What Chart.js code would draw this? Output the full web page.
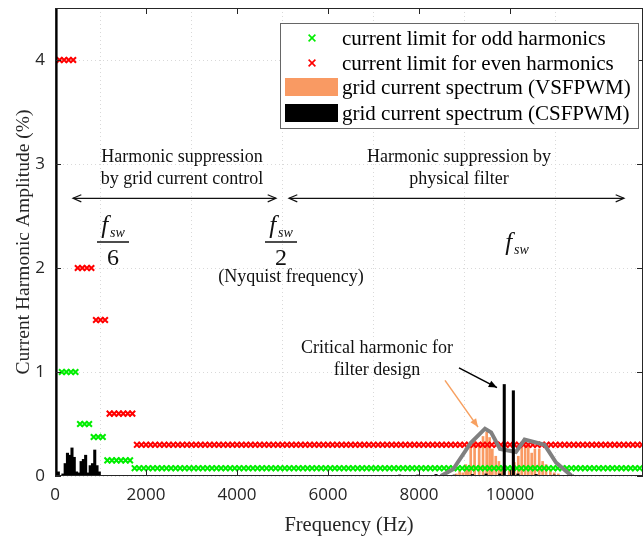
<!DOCTYPE html>
<html>
<head>
<meta charset="utf-8">
<script src="https://cdn.jsdelivr.net/npm/chart.js@4.4.0/dist/chart.umd.min.js"></script>
<style>
  html, body { margin: 0; padding: 0; background: #fff; overflow: hidden; }
  /* canvas is a bit wider than the window: the plot box runs off the right edge like the reference */
  #wrap { width: 649px; height: 538px; position: relative; }
</style>
</head>
<body>
<div id="wrap"><canvas id="harmChart"></canvas></div>
<script>
// harmonic current limits, in bands of harmonic order (from..to) with limit in %
const baseFreq = 50;
const oddFrom = [3, 11, 17, 23, 35];
const oddTo = [9, 15, 21, 33, 257];
const oddLimit = [1.0, 0.5, 0.375, 0.15, 0.075];
const evenFrom = [2, 10, 18, 24, 36];
const evenTo = [8, 16, 22, 34, 258];
const evenLimit = [4.0, 2.0, 1.5, 0.6, 0.3];

// grid current spectrum, CSFPWM (Hz, %)
const csfFreq = [50, 100, 200, 250, 300, 350, 400, 450, 500, 550, 600, 650, 700, 750, 800, 850, 900, 950, 1000,
  7600, 8000, 8400, 8800, 9200, 9500, 9800, 9900, 10100, 10200, 10600, 11000, 11400];
const csfAmp = [100, 0.04, 0.02, 0.12, 0.22, 0.2, 0.27, 0.18, 0.04, 0.03, 0.14, 0.16, 0.2, 0.03, 0.1, 0.12, 0.25, 0.1, 0.04,
  0.01, 0.01, 0.015, 0.01, 0.015, 0.02, 0.02, 0.88, 0.82, 0.02, 0.015, 0.01, 0.01];

// grid current spectrum, VSFPWM (Hz, %)
const vsfFreq = [8800, 8870, 8940, 9005, 9060, 9115, 9200, 9300, 9385, 9465, 9530, 9590, 9665, 9735, 9795, 9850,
  9960, 10020, 10075, 10160, 10235, 10310, 10380, 10455, 10525, 10620, 10695, 10770, 10865, 10950, 11040];
const vsfAmp = [0.02, 0.05, 0.03, 0.11, 0.07, 0.29, 0.35, 0.32, 0.38, 0.42, 0.37, 0.26, 0.19, 0.14, 0.08, 0.05,
  0.05, 0.08, 0.13, 0.19, 0.27, 0.30, 0.29, 0.22, 0.26, 0.26, 0.14, 0.11, 0.06, 0.03, 0.02];

// envelope of the VSFPWM spectrum
const envFreq = [8480, 8750, 9140, 9450, 9585, 9780, 10130, 10320, 10760, 11010, 11340];
const envAmp = [0, 0.064, 0.32, 0.455, 0.42, 0.26, 0.23, 0.35, 0.30, 0.13, 0.006];

const xTicks = [0, 2000, 4000, 6000, 8000, 10000];
const yTicks = [0, 1, 2, 3, 4];

function bandPoints(from, to, limit) {
  const pts = [];
  for (let i = 0; i < from.length; i++) {
    for (let h = from[i]; h <= to[i]; h += 2) pts.push({ x: h * baseFreq, y: limit[i] });
  }
  return pts;
}
const zip = (xs, ys) => xs.map((v, i) => ({ x: v, y: ys[i] }));

const serif = '"Liberation Serif", "Times New Roman", serif';
const sans = '"Open Sans", "Noto Sans", sans-serif';

function arrowHead(ctx, x0, y0, x1, y1, len, filled) {
  const ang = Math.atan2(y1 - y0, x1 - x0);
  const a1 = ang + Math.PI - 0.4, a2 = ang + Math.PI + 0.4;
  ctx.beginPath();
  ctx.moveTo(x1 + len * Math.cos(a1), y1 + len * Math.sin(a1));
  ctx.lineTo(x1, y1);
  ctx.lineTo(x1 + len * Math.cos(a2), y1 + len * Math.sin(a2));
  if (filled) { ctx.closePath(); ctx.fill(); } else ctx.stroke();
}

function fsw(ctx, cx, cy) {
  ctx.font = 'italic 25px ' + serif;
  const wf = ctx.measureText('f').width;
  ctx.font = 'italic 14px ' + serif;
  const ws = ctx.measureText('sw').width;
  const left = cx - (wf + ws + 2) / 2;
  ctx.textAlign = 'left';
  ctx.font = 'italic 25px ' + serif;
  ctx.fillText('f', left, cy);
  ctx.font = 'italic 14px ' + serif;
  ctx.fillText('sw', left + wf + 2, cy + 7);
}

const decor = {
  id: 'decor',
  afterDraw(chart) {
    const { ctx, chartArea: a, scales: { x, y } } = chart;
    const px = v => x.getPixelForValue(v);
    const py = v => y.getPixelForValue(v);
    const right = Math.min(a.right, 643);
    ctx.save();

    // box and inward ticks
    ctx.strokeStyle = '#262626';
    ctx.lineWidth = 1;
    ctx.strokeRect(a.left + 0.5, a.top + 0.5, right - a.left - 1, a.bottom - a.top - 1);
    ctx.beginPath();
    xTicks.forEach(v => {
      const xx = Math.round(px(v)) + 0.5;
      ctx.moveTo(xx, a.bottom); ctx.lineTo(xx, a.bottom - 6);
      ctx.moveTo(xx, a.top); ctx.lineTo(xx, a.top + 6);
    });
    yTicks.forEach(v => {
      const yy = Math.round(py(v)) + 0.5;
      ctx.moveTo(a.left, yy); ctx.lineTo(a.left + 6, yy);
      ctx.moveTo(right, yy); ctx.lineTo(right - 6, yy);
    });
    ctx.stroke();

    // region annotations
    ctx.fillStyle = '#111';
    ctx.textAlign = 'center';
    ctx.textBaseline = 'middle';
    ctx.font = '18px ' + serif;
    ctx.fillText('Harmonic suppression', px(2791), py(3.06));
    ctx.fillText('by grid current control', px(2791), py(2.85));
    ctx.fillText('Harmonic suppression by', px(8879), py(3.06));
    ctx.fillText('physical filter', px(8879), py(2.85));

    ctx.strokeStyle = '#111';
    ctx.lineWidth = 1.2;
    [[396, 4857], [5143, 12505]].forEach(([f0, f1]) => {
      const yy = py(2.67);
      ctx.beginPath(); ctx.moveTo(px(f0), yy); ctx.lineTo(px(f1), yy); ctx.stroke();
      arrowHead(ctx, px(f1), yy, px(f0), yy, 9, false);
      arrowHead(ctx, px(f0), yy, px(f1), yy, 9, false);
    });

    // f_sw / 6, f_sw / 2, f_sw
    fsw(ctx, px(1275), py(2.4));
    ctx.lineWidth = 1.5;
    ctx.beginPath(); ctx.moveTo(px(1275) - 16, py(2.25)); ctx.lineTo(px(1275) + 16, py(2.25)); ctx.stroke();
    ctx.textAlign = 'center';
    ctx.font = '24px ' + serif;
    ctx.fillText('6', px(1275), py(2.09));
    fsw(ctx, px(4967), py(2.4));
    ctx.beginPath(); ctx.moveTo(px(4967) - 16, py(2.25)); ctx.lineTo(px(4967) + 16, py(2.25)); ctx.stroke();
    ctx.textAlign = 'center';
    ctx.font = '24px ' + serif;
    ctx.fillText('2', px(4967), py(2.09));
    ctx.font = '18px ' + serif;
    ctx.fillText('(Nyquist frequency)', px(5187), py(1.91));
    fsw(ctx, px(10154), py(2.24));

    // critical harmonic note
    ctx.textAlign = 'center';
    ctx.font = '18px ' + serif;
    ctx.fillText('Critical harmonic for', px(7077), py(1.23));
    ctx.fillText('filter design', px(7077), py(1.02));
    ctx.strokeStyle = '#000'; ctx.fillStyle = '#000'; ctx.lineWidth = 1.5;
    ctx.beginPath(); ctx.moveTo(px(8879), py(1.04)); ctx.lineTo(px(9714), py(0.85)); ctx.stroke();
    arrowHead(ctx, px(8879), py(1.04), px(9714), py(0.85), 9, true);
    ctx.strokeStyle = '#f7a060'; ctx.fillStyle = '#f7a060';
    ctx.beginPath(); ctx.moveTo(px(8571), py(0.92)); ctx.lineTo(px(9297), py(0.47)); ctx.stroke();
    arrowHead(ctx, px(8571), py(0.92), px(9297), py(0.47), 9, true);

    // legend
    const bl = right - 363, bt = a.top + 15, bw = 358, bh = 105;
    ctx.fillStyle = '#fff';
    ctx.fillRect(bl, bt, bw, bh);
    ctx.strokeStyle = '#666'; ctx.lineWidth = 1;
    ctx.strokeRect(bl + 0.5, bt + 0.5, bw, bh);
    const rows = [15, 40, 64, 90];
    ctx.textAlign = 'left';
    ctx.textBaseline = 'middle';
    ctx.font = '21px ' + serif;
    chart.data.datasets.filter(d => d.label).forEach((d, i) => {
      const ry = bt + rows[i];
      if (d.type === 'scatter') {
        ctx.strokeStyle = d.borderColor; ctx.lineWidth = 1.6;
        const cx = bl + 32, r = 3.4;
        ctx.beginPath();
        ctx.moveTo(cx - r, ry - r); ctx.lineTo(cx + r, ry + r);
        ctx.moveTo(cx - r, ry + r); ctx.lineTo(cx + r, ry - r);
        ctx.stroke();
      } else {
        ctx.fillStyle = d.backgroundColor;
        ctx.fillRect(bl + 5, ry - 9, 53, 18);
      }
      ctx.fillStyle = '#000';
      ctx.fillText(d.label, bl + 62, ry + 1);
    });
    ctx.restore();
  }
};

new Chart(document.getElementById('harmChart'), {
  type: 'bar',
  data: {
    datasets: [
      {
        type: 'scatter', label: 'current limit for odd harmonics',
        data: bandPoints(oddFrom, oddTo, oddLimit),
        pointStyle: 'crossRot', pointRadius: 4, borderColor: '#00ee00', borderWidth: 2, order: 2
      },
      {
        type: 'scatter', label: 'current limit for even harmonics',
        data: bandPoints(evenFrom, evenTo, evenLimit),
        pointStyle: 'crossRot', pointRadius: 4, borderColor: '#ff0000', borderWidth: 2, order: 2
      },
      {
        label: 'grid current spectrum (VSFPWM)',
        data: zip(vsfFreq, vsfAmp),
        backgroundColor: '#f99a63', barThickness: 2, order: 3
      },
      {
        label: 'grid current spectrum (CSFPWM)',
        data: zip(csfFreq, csfAmp),
        backgroundColor: '#000000', barThickness: 2.4, order: 0
      },
      {
        type: 'line',
        data: zip(envFreq, envAmp),
        borderColor: '#808080', borderWidth: 4, pointRadius: 0, tension: 0, order: 1
      }
    ]
  },
  options: {
    responsive: true,
    maintainAspectRatio: false,
    animation: false,
    events: [],
    layout: { padding: { top: 8, right: 0, left: 0, bottom: 0 } },
    plugins: { legend: { display: false }, tooltip: { enabled: false } },
    scales: {
      x: {
        type: 'linear', min: 0, max: 12923, offset: false,
        afterBuildTicks: s => { s.ticks = xTicks.map(v => ({ value: v })); },
        afterFit: s => { s.height = 62; s.paddingLeft = 0; s.paddingRight = 0; },
        ticks: { font: { family: sans, size: 17 }, color: '#262626', padding: 9, maxRotation: 0,
          callback: v => String(v) },
        grid: { color: '#d9d9d9', drawTicks: false },
        border: { display: false, dash: [1, 3] },
        title: { display: true, text: 'Frequency (Hz)', font: { family: serif, size: 20.5 }, color: '#262626',
          padding: { top: 1, bottom: 0 } }
      },
      y: {
        min: 0, max: 4.5,
        afterBuildTicks: s => { s.ticks = yTicks.map(v => ({ value: v })); },
        afterFit: s => { s.width = 55; s.paddingTop = 0; s.paddingBottom = 0; },
        ticks: { font: { family: sans, size: 17 }, color: '#262626', padding: 10 },
        grid: { color: '#d9d9d9', drawTicks: false },
        border: { display: false, dash: [1, 3] },
        title: { display: true, text: 'Current Harmonic Amplitude (%)', font: { family: serif, size: 19.5 },
          color: '#262626', padding: { top: 12, bottom: 0 } }
      }
    }
  },
  plugins: [decor]
});
</script>
</body>
</html>
